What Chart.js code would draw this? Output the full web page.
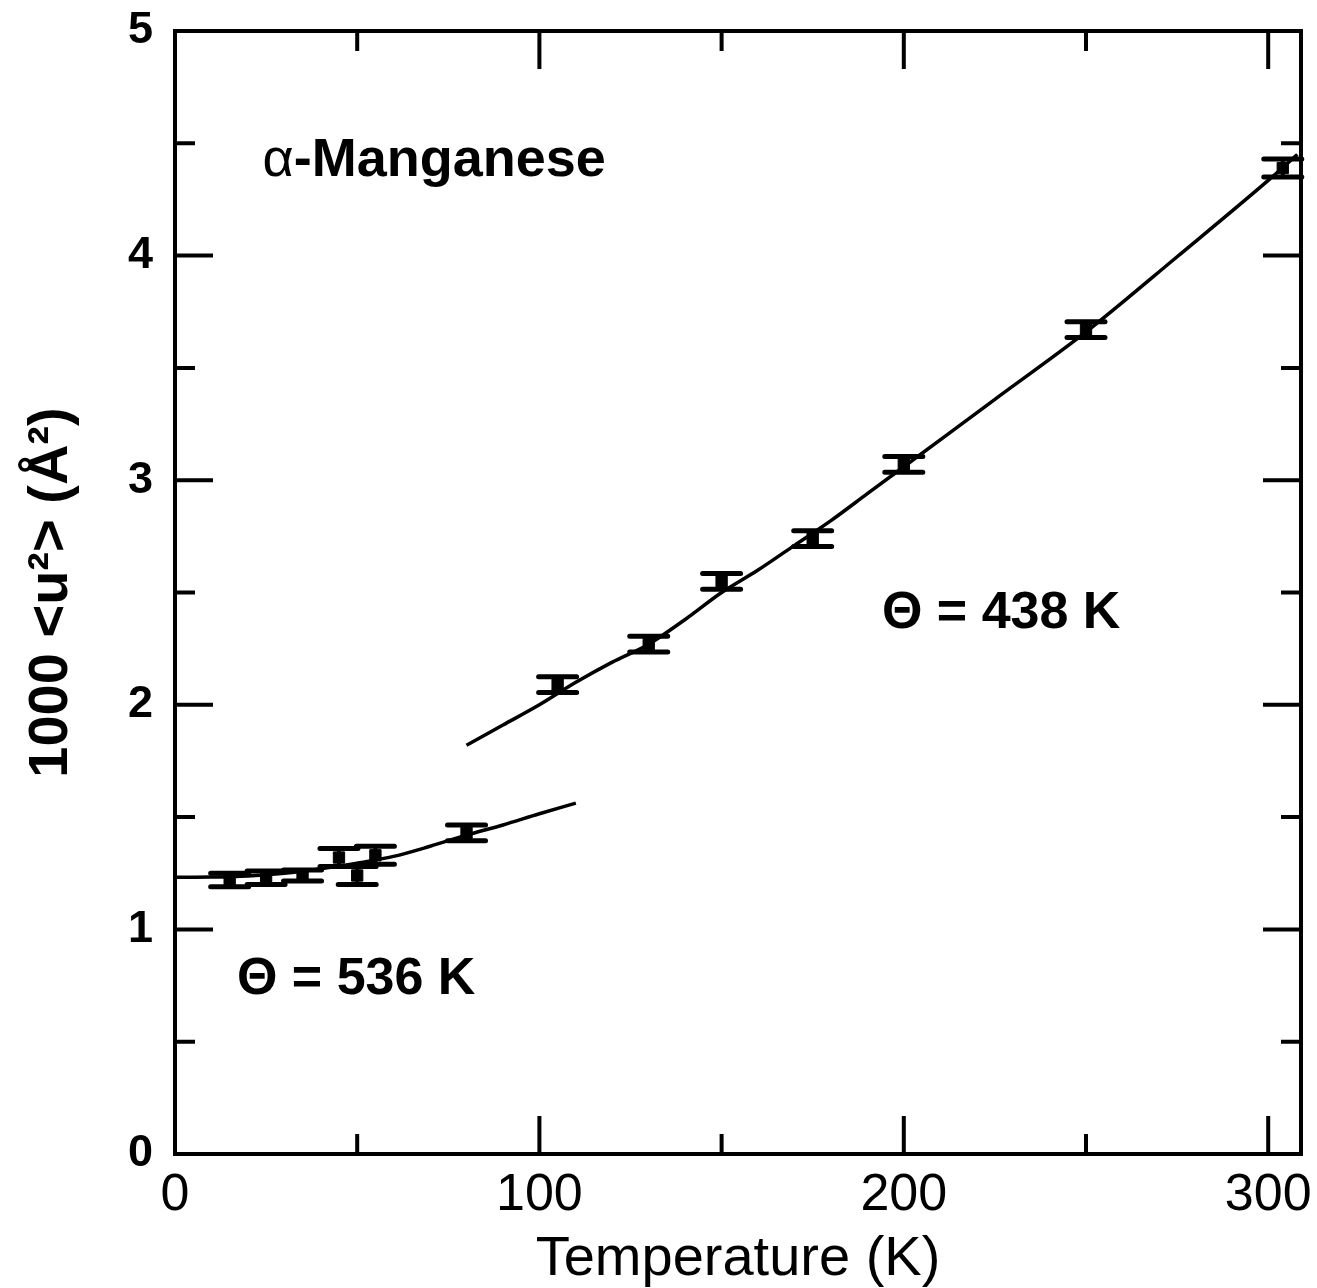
<!DOCTYPE html>
<html>
<head>
<meta charset="utf-8">
<script src="https://cdn.jsdelivr.net/npm/chart.js@4.4.1/dist/chart.umd.min.js"></script>
<style>
  html, body { margin: 0; padding: 0; background: #fff; }
  canvas { display: block; }
</style>
</head>
<body>
<canvas id="chart" width="1317" height="1288"></canvas>
<script>
// measured points: temperature (K), 1000<u^2> (A^2), error bar half-height
const temps = [15, 25, 35, 45, 50, 55, 80, 105, 130, 150, 175, 200, 250, 304];
const u2 = [1.22, 1.23, 1.24, 1.32, 1.24, 1.33, 1.43, 2.09, 2.27, 2.55, 2.74, 3.07, 3.67, 4.39];
const u2Err = [0.03, 0.03, 0.025, 0.04, 0.04, 0.04, 0.035, 0.035, 0.035, 0.035, 0.035, 0.035, 0.035, 0.04];

// Debye fit, Theta = 536 K (low temperature branch)
const fitLowT = [0, 10, 20, 30, 40, 50, 60, 70, 80, 90, 100, 110];
const fitLowU = [1.232, 1.233, 1.238, 1.25, 1.27, 1.295, 1.325, 1.37, 1.42, 1.465, 1.515, 1.562];

// Debye fit, Theta = 438 K (high temperature branch)
const fitHighT = [80, 90, 100, 110, 120, 130, 140, 150, 160, 170, 180, 190, 200, 225, 250, 275, 300, 308];
const fitHighU = [1.82, 1.91, 2.0, 2.1, 2.19, 2.27, 2.38, 2.5, 2.6, 2.71, 2.82, 2.94, 3.06, 3.36, 3.66, 3.995, 4.335, 4.45];

// axis ticks
const xMajor = [0, 100, 200, 300];
const xMinor = [50, 150, 250];
const yMajor = [0, 1, 2, 3, 4, 5];
const yMinor = [0.5, 1.5, 2.5, 3.5, 4.5];

const FONT = "'Liberation Sans', Arial, Helvetica, sans-serif";
Chart.defaults.font.family = FONT;
Chart.defaults.color = "#000";

function toXY(xs, ys) {
  return xs.map((x, i) => ({ x: x, y: ys[i] }));
}

// error bars, frame, inward ticks and text labels
const decorPlugin = {
  id: "decor",
  beforeDatasetsDraw(chart) {
    const ctx = chart.ctx;
    const sx = chart.scales.x;
    const sy = chart.scales.y;
    ctx.save();
    ctx.strokeStyle = "#000";
    ctx.lineCap = "round";
    temps.forEach((t, i) => {
      const px = sx.getPixelForValue(t);
      const top = sy.getPixelForValue(u2[i] + u2Err[i]);
      const bot = sy.getPixelForValue(u2[i] - u2Err[i]);
      ctx.lineWidth = 4;
      ctx.beginPath();
      ctx.moveTo(px, top);
      ctx.lineTo(px, bot);
      ctx.stroke();
      ctx.lineWidth = 5;
      ctx.beginPath();
      ctx.moveTo(px - 19, top);
      ctx.lineTo(px + 19, top);
      ctx.moveTo(px - 19, bot);
      ctx.lineTo(px + 19, bot);
      ctx.stroke();
    });
    ctx.restore();
  },
  afterDraw(chart) {
    const ctx = chart.ctx;
    const a = chart.chartArea;
    const sx = chart.scales.x;
    const sy = chart.scales.y;
    ctx.save();
    ctx.strokeStyle = "#000";
    ctx.lineWidth = 4;
    ctx.lineCap = "butt";
    ctx.strokeRect(a.left, a.top, a.right - a.left, a.bottom - a.top);

    function xTick(v, len) {
      const px = sx.getPixelForValue(v);
      ctx.beginPath();
      ctx.moveTo(px, a.bottom);
      ctx.lineTo(px, a.bottom - len);
      ctx.moveTo(px, a.top);
      ctx.lineTo(px, a.top + len);
      ctx.stroke();
    }
    function yTick(v, len) {
      const py = sy.getPixelForValue(v);
      ctx.beginPath();
      ctx.moveTo(a.left, py);
      ctx.lineTo(a.left + len, py);
      ctx.moveTo(a.right, py);
      ctx.lineTo(a.right - len, py);
      ctx.stroke();
    }
    xMajor.forEach(v => xTick(v, 38));
    xMinor.forEach(v => xTick(v, 20));
    yMajor.forEach(v => yTick(v, 38));
    yMinor.forEach(v => yTick(v, 20));

    // text labels
    ctx.fillStyle = "#000";
    ctx.textBaseline = "middle";
    ctx.textAlign = "left";
    let lx = sx.getPixelForValue(24);
    let ly = sy.getPixelForValue(4.42);
    ctx.font = "54px " + FONT;
    ctx.fillText("α", lx, ly);
    lx += ctx.measureText("α").width;
    ctx.font = "bold 54px " + FONT;
    ctx.fillText("-Manganese", lx, ly);

    ctx.font = "bold 52px " + FONT;
    ctx.fillText("Θ = 536 K", sx.getPixelForValue(17), sy.getPixelForValue(0.775));
    ctx.fillText("Θ = 438 K", sx.getPixelForValue(194), sy.getPixelForValue(2.405));
    ctx.restore();
  }
};

const chart = new Chart(document.getElementById("chart").getContext("2d"), {
  type: "scatter",
  data: {
    datasets: [
      {
        label: "fit 536 K",
        data: toXY(fitLowT, fitLowU),
        showLine: true,
        borderColor: "#000",
        borderWidth: 3.5,
        pointRadius: 0,
        cubicInterpolationMode: "monotone",
      },
      {
        label: "fit 438 K",
        data: toXY(fitHighT, fitHighU),
        showLine: true,
        borderColor: "#000",
        borderWidth: 3.5,
        pointRadius: 0,
        cubicInterpolationMode: "monotone",
      },
      {
        label: "data",
        data: toXY(temps, u2),
        pointStyle: "rect",
        pointRadius: 8,
        backgroundColor: "#000",
        borderColor: "#000",
        borderWidth: 1,
      },
    ],
  },
  options: {
    responsive: false,
    animation: false,
    devicePixelRatio: 1,
    layout: {
      padding: { top: 31, right: 16, left: 0, bottom: 0 },
    },
    plugins: {
      legend: { display: false },
      tooltip: { enabled: false },
    },
    scales: {
      x: {
        type: "linear",
        position: "bottom",
        min: 0,
        max: 309,
        grid: { display: false, drawTicks: false },
        border: { display: false },
        ticks: {
          padding: 10,
          maxRotation: 0,
          autoSkip: false,
          font: { size: 52 },
          color: "#000",
        },
        title: {
          display: true,
          text: "Temperature (K)",
          font: { size: 56, lineHeight: 1 },
          padding: 0,
          color: "#000",
        },
        afterBuildTicks(scale) {
          scale.ticks = xMajor.map(v => ({ value: v }));
        },
        afterFit(scale) {
          scale.height = 134;
          scale.paddingLeft = 0;
          scale.paddingRight = 0;
        },
      },
      y: {
        type: "linear",
        min: 0,
        max: 5,
        grid: { display: false, drawTicks: false },
        border: { display: false },
        ticks: {
          padding: 22,
          autoSkip: false,
          font: { size: 45, weight: "bold" },
          color: "#000",
        },
        title: {
          display: true,
          text: "1000 <u²> (Å²)",
          font: { size: 56, weight: "bold", lineHeight: 1.2 },
          padding: { top: 18, bottom: 0 },
          color: "#000",
        },
        afterBuildTicks(scale) {
          scale.ticks = yMajor.map(v => ({ value: v }));
        },
        afterFit(scale) {
          scale.width = 175;
          scale.paddingTop = 0;
          scale.paddingBottom = 0;
        },
      },
    },
  },
  plugins: [decorPlugin],
});
</script>
</body>
</html>
